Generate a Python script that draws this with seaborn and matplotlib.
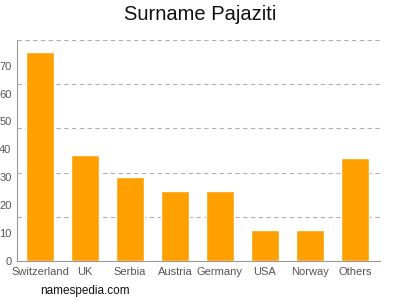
import matplotlib
matplotlib.use("Agg")
import matplotlib.pyplot as plt
import seaborn as sns
import pandas as pd
import numpy as np

countries = ["Switzerland", "UK", "Serbia", "Austria", "Germany", "USA", "Norway", "Others"]
counts = [75, 38, 30, 25, 25, 11, 11, 37]
yticks = [0, 10, 20, 30, 40, 50, 60, 70]

sns.set_style("white")
plt.rcParams['font.family'] = ['Liberation Sans', 'DejaVu Sans']

df = pd.DataFrame({"country": countries, "count": counts})

fig = plt.figure(figsize=(4, 3), dpi=100)
ax = fig.add_axes([17/400, 39/300, (380-17)/400, (261-40)/300])
sns.barplot(data=df, x="country", y="count", color="#ffa000", saturation=1,
            width=0.62, ax=ax, zorder=3)

ymax = 79.2
ax.set_ylim(0, ymax)
ax.set_xlim(-0.51, 7.56)
ax.set_yticks(yticks)
ax.set_yticks(np.linspace(0, ymax, 6)[1:], minor=True)
ax.yaxis.grid(True, which="minor", color="#b0b0b0", linestyle=(0, (4, 3)), linewidth=0.8)
ax.yaxis.grid(False, which="major")
ax.tick_params(axis="y", which="minor", length=0)
ax.tick_params(axis="both", which="major", length=3, width=0.8, color="#999999",
               labelcolor="#555555", labelsize=8, pad=1)
ax.set_xlabel("")
ax.set_ylabel("")
for s in ["top", "right"]:
    ax.spines[s].set_visible(False)
for s in ["left", "bottom"]:
    ax.spines[s].set_color("#999999")
    ax.spines[s].set_linewidth(0.8)

fig.text(0.5, 1 - 15/300, "Surname Pajaziti", ha="center", va="center", fontsize=14.5, color="#111111")
fig.text(40/400, 1 - 291/300, "namespedia.com", ha="left", va="center", fontsize=8.5, color="#111111")

fig.savefig("out.png", dpi=100)
